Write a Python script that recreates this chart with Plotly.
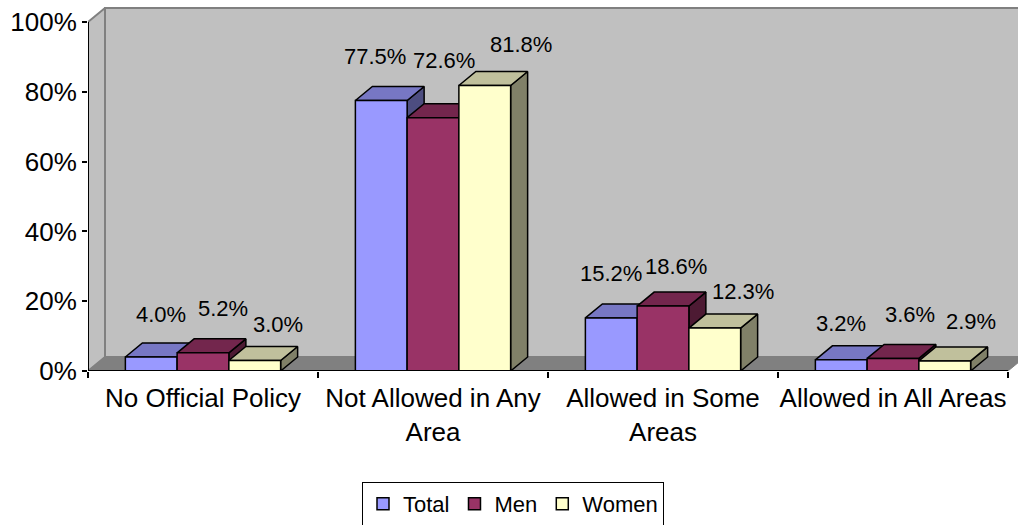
import plotly.graph_objects as go

# ---------------- data ----------------
categories = ["No Official Policy", "Not Allowed in Any Area",
              "Allowed in Some Areas", "Allowed in All Areas"]
tick_text = ["No Official Policy", "Not Allowed in Any<br>Area",
             "Allowed in Some<br>Areas", "Allowed in All Areas"]
series_names = ["Total", "Men", "Women"]
total = [4.0, 77.5, 15.2, 3.2]
men = [5.2, 72.6, 18.6, 3.6]
women = [3.0, 81.8, 12.3, 2.9]
y_ticks = [0, 20, 40, 60, 80, 100]

# ---------------- style ----------------
front_colors = ["#9999FF", "#993366", "#FFFFCC"]
top_colors = ["#7777C4", "#73264D", "#C0C09C"]
side_colors = ["#4D4D80", "#4D1A33", "#808068"]
# data-label pixel offsets (label placement, per series / category)
label_dx = [[10, -6, 0, 0], [20, 11, 13, 17], [23, 36, 28, 26]]
label_dy = [[29, 30, 30, 22], [30, 43, 26, 30], [22, 27, 23, 25]]
FONT = "Arial, 'Liberation Sans', sans-serif"

W, H = 1018, 525
ML, MR, MT, MB = 88, 0, 0, 154
PX_CAT = 230.0                  # px per category
PX_FULL = 349.0                 # px for 100 %
DX = 17 / PX_CAT                # depth offset (x units)
DY = 14 / PX_FULL               # depth offset (y units)
BW = 0.225                      # bar width (category units)

x_max = (W - ML - MR) / PX_CAT
y_max = (H - MT - MB) / PX_FULL
n_cat = len(categories)

fig = go.Figure()


def poly(xs, ys, fill, line="black", width=1.5):
    fig.add_trace(go.Scatter(x=xs, y=ys, mode="lines", fill="toself",
                             fillcolor=fill, line=dict(color=line, width=width),
                             hoverinfo="skip", showlegend=False))


# walls and floor
poly([DX, n_cat + 2 * DX, n_cat + 2 * DX, DX, DX], [DY, DY, 1 + DY, 1 + DY, DY],
     "#C0C0C0", "#808080", 2)
poly([0, DX, DX, 0, 0], [0, DY, 1 + DY, 1, 0], "#C0C0C0", "#808080", 2)
poly([0, n_cat, n_cat + DX, n_cat + 2 * DX, DX, 0], [0, 0, DY, DY, DY, 0],
     "#808080", "#808080", 1)

# bars (side, top, front), painter's order left to right
all_series = [total, men, women]
for k, vals in enumerate(all_series):
    sx, sy, tx, ty, fx, fy = [], [], [], [], [], []
    for i, v in enumerate(vals):
        h = v / 100.0
        x0 = i + 0.5 - 1.5 * BW + k * BW
        x1 = x0 + BW
        sx += [x1, x1 + DX, x1 + DX, x1, x1, None]
        sy += [0, DY, h + DY, h, 0, None]
        tx += [x0, x1, x1 + DX, x0 + DX, x0, None]
        ty += [h, h, h + DY, h + DY, h, None]
        fx += [x0, x1, x1, x0, x0, None]
        fy += [0, 0, h, h, 0, None]
    poly(sx, sy, side_colors[k])
    poly(tx, ty, top_colors[k])
    poly(fx, fy, front_colors[k])
    for i, v in enumerate(vals):
        xc = i + 0.5 - 1.5 * BW + (k + 0.5) * BW
        fig.add_annotation(x=xc, y=v / 100.0 + DY, text=f"{v:.1f}%",
                           showarrow=False, xanchor="center", yanchor="middle",
                           xshift=label_dx[k][i], yshift=label_dy[k][i],
                           font=dict(size=22, color="black", family=FONT))

# axis lines
fig.add_trace(go.Scatter(x=[0, 0], y=[0, 1], mode="lines",
                         line=dict(color="black", width=2),
                         hoverinfo="skip", showlegend=False))
fig.add_trace(go.Scatter(x=[0, n_cat], y=[0, 0], mode="lines",
                         line=dict(color="black", width=2),
                         hoverinfo="skip", showlegend=False))

# legend entries
for k, name in enumerate(series_names):
    fig.add_trace(go.Bar(x=[None], y=[None], name=name,
                         marker=dict(color=front_colors[k],
                                     line=dict(color="black", width=1.5))))

fig.update_layout(
    width=W, height=H,
    margin=dict(l=ML, r=MR, t=MT, b=MB),
    paper_bgcolor="white", plot_bgcolor="white",
    font=dict(family=FONT, color="black"),
    showlegend=True,
    legend=dict(orientation="h", xref="container", yref="container",
                x=513 / W, xanchor="center", y=1 - 482 / H, yanchor="top",
                bordercolor="black", borderwidth=1, bgcolor="white",
                font=dict(size=22, family=FONT, color="black")),
    xaxis=dict(range=[0, x_max], tickvals=[i + 0.5 for i in range(n_cat)],
               ticktext=tick_text, ticks="", showgrid=False, zeroline=False,
               showline=False, ticklabelstandoff=9,
               tickfont=dict(size=26, family=FONT, color="black"),
               minor=dict(tickvals=list(range(n_cat + 1)), ticks="outside",
                          ticklen=6, tickwidth=2, tickcolor="black", showgrid=False)),
    yaxis=dict(range=[0, y_max], tickvals=[t / 100 for t in y_ticks],
               ticktext=[f"{t}%" for t in y_ticks], ticks="outside",
               ticklen=5, tickwidth=2, tickcolor="black", showgrid=False,
               zeroline=False, showline=False,
               tickfont=dict(size=26, family=FONT, color="black")),
)

fig.write_html("out.html")
